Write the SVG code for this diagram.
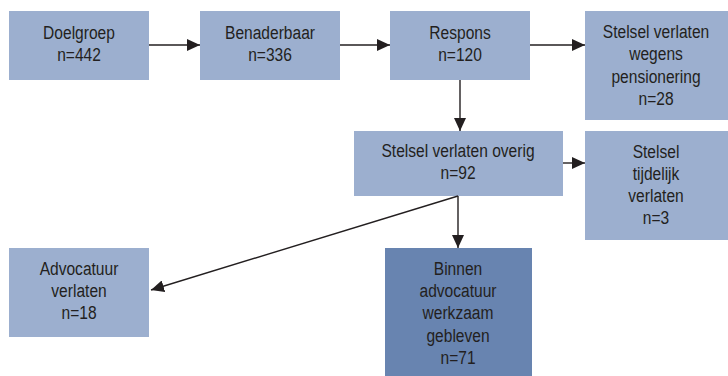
<svg xmlns="http://www.w3.org/2000/svg" width="728" height="376" viewBox="0 0 728 376">
<style>
.box{fill:#9cafcf}
.dark{fill:#6884b0}
text{font-family:"Liberation Sans Narrow","Liberation Sans",Arial,sans-serif;font-size:19px;fill:#231f20;text-anchor:middle}
.c line{stroke:#231f20;stroke-width:1.4;fill:none;marker-end:url(#ah)}
</style>
<defs>
<marker id="ah" markerUnits="userSpaceOnUse" markerWidth="13" markerHeight="12" refX="13" refY="6" orient="auto">
<path d="M0,0 L13,6 L0,12 z" fill="#231f20"/>
</marker>
</defs>
<rect width="728" height="376" fill="#fff"/>
<g id="doelgroep"><rect class="box" x="9" y="11" width="140" height="69"/><g transform="translate(79,0) scale(0.82,1)"><text x="0" y="39">Doelgroep</text><text x="0" y="61">n=442</text></g></g>
<g id="benaderbaar"><rect class="box" x="200" y="11" width="140" height="69"/><g transform="translate(270,0) scale(0.82,1)"><text x="0" y="39">Benaderbaar</text><text x="0" y="61">n=336</text></g></g>
<g id="respons"><rect class="box" x="390" y="11" width="140" height="69"/><g transform="translate(460,0) scale(0.82,1)"><text x="0" y="39">Respons</text><text x="0" y="61">n=120</text></g></g>
<g id="pensionering"><rect class="box" x="585" y="11" width="143" height="109"/><g transform="translate(656,0) scale(0.82,1)"><text x="0" y="38">Stelsel verlaten</text><text x="0" y="60">wegens</text><text x="0" y="83">pensionering</text><text x="0" y="105">n=28</text></g></g>
<g id="overig"><rect class="box" x="354" y="131" width="209" height="65"/><g transform="translate(458,0) scale(0.82,1)"><text x="0" y="157">Stelsel verlaten overig</text><text x="0" y="179">n=92</text></g></g>
<g id="tijdelijk"><rect class="box" x="585" y="131" width="143" height="109"/><g transform="translate(656,0) scale(0.82,1)"><text x="0" y="158">Stelsel</text><text x="0" y="180">tijdelijk</text><text x="0" y="202">verlaten</text><text x="0" y="224">n=3</text></g></g>
<g id="advocatuur-verlaten"><rect class="box" x="9" y="248" width="140" height="89"/><g transform="translate(79,0) scale(0.82,1)"><text x="0" y="275">Advocatuur</text><text x="0" y="297">verlaten</text><text x="0" y="319">n=18</text></g></g>
<g id="binnen"><rect class="dark" x="385" y="248" width="147" height="128"/><g transform="translate(458,0) scale(0.82,1)"><text x="0" y="275">Binnen</text><text x="0" y="297">advocatuur</text><text x="0" y="319.5">werkzaam</text><text x="0" y="342">gebleven</text><text x="0" y="364.5">n=71</text></g></g>
<g class="c" id="connectors">
<line x1="149" y1="45" x2="200" y2="45"/>
<line x1="340" y1="45" x2="390" y2="45"/>
<line x1="530" y1="45" x2="585" y2="45"/>
<line x1="460" y1="80" x2="460" y2="131"/>
<line x1="563" y1="163" x2="585" y2="163"/>
<line x1="458" y1="196" x2="458" y2="248"/>
<line x1="458" y1="196" x2="151" y2="290"/>
</g>
</svg>
